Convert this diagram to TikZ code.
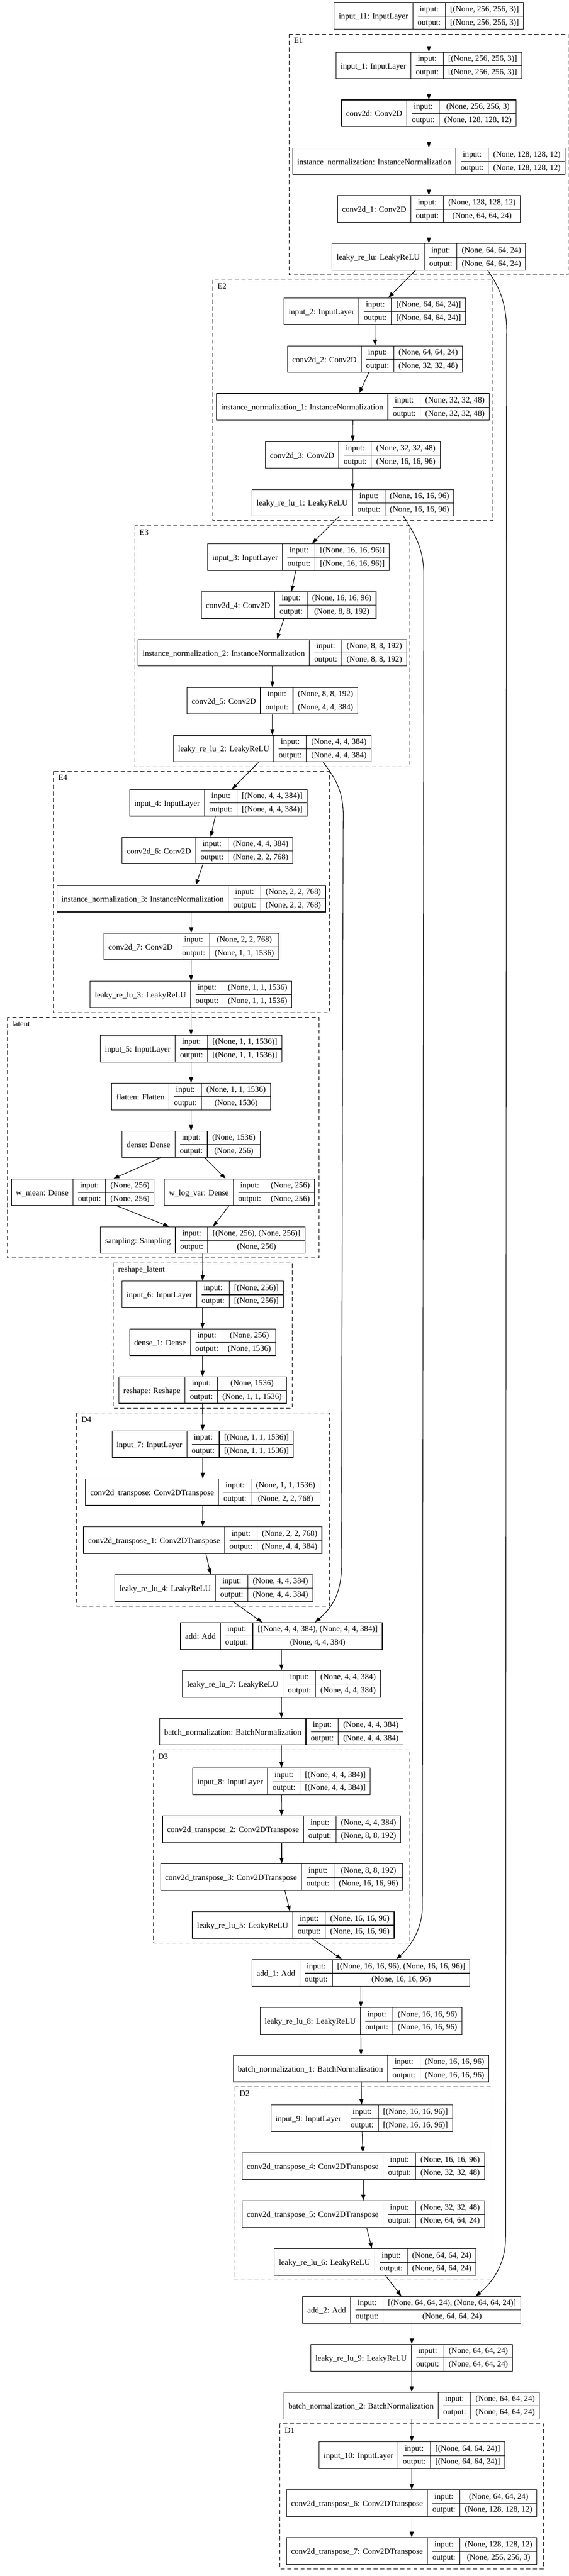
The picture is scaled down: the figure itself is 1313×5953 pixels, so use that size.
\documentclass[tikz,border=0pt]{standalone}
\usepackage{fontspec}
\setmainfont{Liberation Serif}
\usepackage{tikz}
\usetikzlibrary{arrows.meta}

\setlength{\arrayrulewidth}{1pt}
\newcommand{\rowstrut}{\rule[-7.5pt]{0pt}{23pt}}
\newcommand{\layerrec}[3]{%
  \begin{tabular}{@{\hspace{8pt}}c@{\hspace{8pt}}|@{\hspace{8pt}}c@{\hspace{8pt}}|@{\hspace{8pt}}c@{\hspace{8pt}}}
    & input:\rowstrut & #2 \\ \cline{2-3}
    \smash{\raisebox{10pt}{#1}} & output:\rowstrut & #3
  \end{tabular}}

\tikzset{
  rec/.style={draw, line width=1pt, inner sep=0pt, fill=white},
  flow/.style={-{Triangle[length=10pt,width=7pt]}, line width=1pt},
  grp/.style={draw, line width=1pt, dash pattern=on 7pt off 4.5pt},
  grplab/.style={anchor=base west, inner sep=0pt}
}

\begin{document}
\begin{tikzpicture}[x=0.75pt, y=-0.75pt, font=\fontsize{14pt}{16.8pt}\selectfont]
        \fill[white] (0,0) rectangle (1313,5953);

        % Groups
        \draw[grp] (667.5,79) rectangle (1311,635.7);
        \draw[grp] (491,646.7) rectangle (1137.5,1203.3);
        \draw[grp] (311,1215) rectangle (946,1771.7);
        \draw[grp] (123.7,1782.7) rectangle (760,2340);
        \draw[grp] (17,2350.7) rectangle (736,2907.3);
        \draw[grp] (261.7,2918.3) rectangle (674,3254.7);
        \draw[grp] (177,3265.3) rectangle (760,3711.7);
        \draw[grp] (354,4043.7) rectangle (946,4490.3);
        \draw[grp] (542,4822.7) rectangle (1135,5268.7);
        \draw[grp] (646,5601) rectangle (1254.4,5936.7);

        % Group labels
        \node[grplab] (labe1) at (678.2,100) {E1};
        \node[grplab] (labe2) at (501.7,667.7) {E2};
        \node[grplab] (labe3) at (321.7,1236) {E3};
        \node[grplab] (labe4) at (134.4,1803.7) {E4};
        \node[grplab] (lablat) at (27.7,2371.7) {latent};
        \node[grplab] (labres) at (272.4,2939.3) {reshape\_latent};
        \node[grplab] (labd4) at (187.7,3286.3) {D4};
        \node[grplab] (labd3) at (364.7,4064.7) {D3};
        \node[grplab] (labd2) at (552.7,4843.7) {D2};
        \node[grplab] (labd1) at (656.7,5622) {D1};

        % Encoder layers
        \node[rec] (in11) at (989.8,36.5) {\layerrec{input\_11: InputLayer}{[(None, 256, 256, 3)]}{[(None, 256, 256, 3)]}};
        \node[rec] (in1) at (989.8,151.3) {\layerrec{input\_1: InputLayer}{[(None, 256, 256, 3)]}{[(None, 256, 256, 3)]}};
        \node[rec] (conv) at (989.8,261.7) {\layerrec{conv2d: Conv2D}{(None, 256, 256, 3)}{(None, 128, 128, 12)}};
        \node[rec] (inorm) at (989.8,372.5) {\layerrec{instance\_normalization: InstanceNormalization}{(None, 128, 128, 12)}{(None, 128, 128, 12)}};
        \node[rec] (conv1) at (989.8,483) {\layerrec{conv2d\_1: Conv2D}{(None, 128, 128, 12)}{(None, 64, 64, 24)}};
        \node[rec] (lrelu) at (989.8,593.7) {\layerrec{leaky\_re\_lu: LeakyReLU}{(None, 64, 64, 24)}{(None, 64, 64, 24)}};
        \node[rec] (in2) at (865.2,719.3) {\layerrec{input\_2: InputLayer}{[(None, 64, 64, 24)]}{[(None, 64, 64, 24)]}};
        \node[rec] (conv2) at (865.7,829.7) {\layerrec{conv2d\_2: Conv2D}{(None, 64, 64, 24)}{(None, 32, 32, 48)}};
        \node[rec] (inorm1) at (814.4,940.3) {\layerrec{instance\_normalization\_1: InstanceNormalization}{(None, 32, 32, 48)}{(None, 32, 32, 48)}};
        \node[rec] (conv3) at (814.1,1051.3) {\layerrec{conv2d\_3: Conv2D}{(None, 32, 32, 48)}{(None, 16, 16, 96)}};
        \node[rec] (lrelu1) at (814.4,1161.8) {\layerrec{leaky\_re\_lu\_1: LeakyReLU}{(None, 16, 16, 96)}{(None, 16, 16, 96)}};
        \node[rec] (in3) at (689,1287.3) {\layerrec{input\_3: InputLayer}{[(None, 16, 16, 96)]}{[(None, 16, 16, 96)]}};
        \node[rec] (conv4) at (666.3,1398) {\layerrec{conv2d\_4: Conv2D}{(None, 16, 16, 96)}{(None, 8, 8, 192)}};
        \node[rec] (inorm2) at (628.5,1508.3) {\layerrec{instance\_normalization\_2: InstanceNormalization}{(None, 8, 8, 192)}{(None, 8, 8, 192)}};
        \node[rec] (conv5) at (628.7,1619.3) {\layerrec{conv2d\_5: Conv2D}{(None, 8, 8, 192)}{(None, 4, 4, 384)}};
        \node[rec] (lrelu2) at (628.5,1729.7) {\layerrec{leaky\_re\_lu\_2: LeakyReLU}{(None, 4, 4, 384)}{(None, 4, 4, 384)}};
        \node[rec] (in4) at (504,1855.2) {\layerrec{input\_4: InputLayer}{[(None, 4, 4, 384)]}{[(None, 4, 4, 384)]}};
        \node[rec] (conv6) at (479,1965.8) {\layerrec{conv2d\_6: Conv2D}{(None, 4, 4, 384)}{(None, 2, 2, 768)}};
        \node[rec] (inorm3) at (441.3,2076.7) {\layerrec{instance\_normalization\_3: InstanceNormalization}{(None, 2, 2, 768)}{(None, 2, 2, 768)}};
        \node[rec] (conv7) at (441.3,2187.3) {\layerrec{conv2d\_7: Conv2D}{(None, 2, 2, 768)}{(None, 1, 1, 1536)}};
        \node[rec] (lrelu3) at (441,2298) {\layerrec{leaky\_re\_lu\_3: LeakyReLU}{(None, 1, 1, 1536)}{(None, 1, 1, 1536)}};

        % Latent layers
        \node[rec] (in5) at (441,2423.3) {\layerrec{input\_5: InputLayer}{[(None, 1, 1, 1536)]}{[(None, 1, 1, 1536)]}};
        \node[rec] (flat) at (441,2534) {\layerrec{flatten: Flatten}{(None, 1, 1, 1536)}{(None, 1536)}};
        \node[rec] (dense) at (441,2644.5) {\layerrec{dense: Dense}{(None, 1536)}{(None, 256)}};
        \node[rec] (wmean) at (191,2755) {\layerrec{w\_mean: Dense}{(None, 256)}{(None, 256)}};
        \node[rec] (wlogvar) at (552.5,2755) {\layerrec{w\_log\_var: Dense}{(None, 256)}{(None, 256)}};
        \node[rec] (samp) at (467.9,2865.8) {\layerrec{sampling: Sampling}{[(None, 256), (None, 256)]}{(None, 256)}};
        \node[rec] (in6) at (467.5,2991.3) {\layerrec{input\_6: InputLayer}{[(None, 256)]}{[(None, 256)]}};
        \node[rec] (dense1) at (467.5,3101.7) {\layerrec{dense\_1: Dense}{(None, 256)}{(None, 1536)}};
        \node[rec] (resh) at (467.5,3212.5) {\layerrec{reshape: Reshape}{(None, 1536)}{(None, 1, 1, 1536)}};

        % Decoder layers
        \node[rec] (in7) at (467.9,3337.5) {\layerrec{input\_7: InputLayer}{[(None, 1, 1, 1536)]}{[(None, 1, 1, 1536)]}};
        \node[rec] (convt) at (468,3448.2) {\layerrec{conv2d\_transpose: Conv2DTranspose}{(None, 1, 1, 1536)}{(None, 2, 2, 768)}};
        \node[rec] (convt1) at (467.9,3559.3) {\layerrec{conv2d\_transpose\_1: Conv2DTranspose}{(None, 2, 2, 768)}{(None, 4, 4, 384)}};
        \node[rec] (lrelu4) at (493.5,3669.8) {\layerrec{leaky\_re\_lu\_4: LeakyReLU}{(None, 4, 4, 384)}{(None, 4, 4, 384)}};
        \node[rec] (add) at (649.5,3780.5) {\layerrec{add: Add}{[(None, 4, 4, 384), (None, 4, 4, 384)]}{(None, 4, 4, 384)}};
        \node[rec] (lrelu7) at (649.6,3891.2) {\layerrec{leaky\_re\_lu\_7: LeakyReLU}{(None, 4, 4, 384)}{(None, 4, 4, 384)}};
        \node[rec] (bnorm) at (649.5,4001.7) {\layerrec{batch\_normalization: BatchNormalization}{(None, 4, 4, 384)}{(None, 4, 4, 384)}};
        \node[rec] (in8) at (649.7,4116.5) {\layerrec{input\_8: InputLayer}{[(None, 4, 4, 384)]}{[(None, 4, 4, 384)]}};
        \node[rec] (convt2) at (650,4227.3) {\layerrec{conv2d\_transpose\_2: Conv2DTranspose}{(None, 4, 4, 384)}{(None, 8, 8, 192)}};
        \node[rec] (convt3) at (650,4338) {\layerrec{conv2d\_transpose\_3: Conv2DTranspose}{(None, 8, 8, 192)}{(None, 16, 16, 96)}};
        \node[rec] (lrelu5) at (676.8,4448.5) {\layerrec{leaky\_re\_lu\_5: LeakyReLU}{(None, 16, 16, 96)}{(None, 16, 16, 96)}};
        \node[rec] (add1) at (832.9,4559.3) {\layerrec{add\_1: Add}{[(None, 16, 16, 96), (None, 16, 16, 96)]}{(None, 16, 16, 96)}};
        \node[rec] (lrelu8) at (832.9,4670) {\layerrec{leaky\_re\_lu\_8: LeakyReLU}{(None, 16, 16, 96)}{(None, 16, 16, 96)}};
        \node[rec] (bnorm1) at (833.3,4780.5) {\layerrec{batch\_normalization\_1: BatchNormalization}{(None, 16, 16, 96)}{(None, 16, 16, 96)}};
        \node[rec] (in9) at (834.8,4895.3) {\layerrec{input\_9: InputLayer}{[(None, 16, 16, 96)]}{[(None, 16, 16, 96)]}};
        \node[rec] (convt4) at (838.5,5005.8) {\layerrec{conv2d\_transpose\_4: Conv2DTranspose}{(None, 16, 16, 96)}{(None, 32, 32, 48)}};
        \node[rec] (convt5) at (838.5,5116.5) {\layerrec{conv2d\_transpose\_5: Conv2DTranspose}{(None, 32, 32, 48)}{(None, 64, 64, 24)}};
        \node[rec] (lrelu6) at (866,5227.3) {\layerrec{leaky\_re\_lu\_6: LeakyReLU}{(None, 64, 64, 24)}{(None, 64, 64, 24)}};
        \node[rec] (add2) at (950.3,5337.8) {\layerrec{add\_2: Add}{[(None, 64, 64, 24), (None, 64, 64, 24)]}{(None, 64, 64, 24)}};
        \node[rec] (lrelu9) at (950.3,5448.5) {\layerrec{leaky\_re\_lu\_9: LeakyReLU}{(None, 64, 64, 24)}{(None, 64, 64, 24)}};
        \node[rec] (bnorm2) at (950.2,5559.2) {\layerrec{batch\_normalization\_2: BatchNormalization}{(None, 64, 64, 24)}{(None, 64, 64, 24)}};
        \node[rec] (in10) at (950.5,5673.8) {\layerrec{input\_10: InputLayer}{[(None, 64, 64, 24)]}{[(None, 64, 64, 24)]}};
        \node[rec] (convt6) at (950.2,5784.5) {\layerrec{conv2d\_transpose\_6: Conv2DTranspose}{(None, 64, 64, 24)}{(None, 128, 128, 12)}};
        \node[rec] (convt7) at (950.2,5895.2) {\layerrec{conv2d\_transpose\_7: Conv2DTranspose}{(None, 128, 128, 12)}{(None, 256, 256, 3)}};

        % Encoder flow
        \draw[flow] (in11) -- (in1);
        \draw[flow] (in1) -- (conv);
        \draw[flow] (conv) -- (inorm);
        \draw[flow] (inorm) -- (conv1);
        \draw[flow] (conv1) -- (lrelu);
        \draw[flow] (lrelu) -- (in2);
        \draw[flow] (in2) -- (conv2);
        \draw[flow] (conv2) -- (inorm1);
        \draw[flow] (inorm1) -- (conv3);
        \draw[flow] (conv3) -- (lrelu1);
        \draw[flow] (lrelu1) -- (in3);
        \draw[flow] (in3) -- (conv4);
        \draw[flow] (conv4) -- (inorm2);
        \draw[flow] (inorm2) -- (conv5);
        \draw[flow] (conv5) -- (lrelu2);
        \draw[flow] (lrelu2) -- (in4);
        \draw[flow] (in4) -- (conv6);
        \draw[flow] (conv6) -- (inorm3);
        \draw[flow] (inorm3) -- (conv7);
        \draw[flow] (conv7) -- (lrelu3);

        % Latent flow
        \draw[flow] (lrelu3) -- (in5);
        \draw[flow] (in5) -- (flat);
        \draw[flow] (flat) -- (dense);
        \draw[flow] (dense) -- (wmean);
        \draw[flow] (dense) -- (wlogvar);
        \draw[flow] (wmean) -- (samp);
        \draw[flow] (wlogvar) -- (samp);
        \draw[flow] (samp) -- (in6);
        \draw[flow] (in6) -- (dense1);
        \draw[flow] (dense1) -- (resh);

        % Decoder flow
        \draw[flow] (resh) -- (in7);
        \draw[flow] (in7) -- (convt);
        \draw[flow] (convt) -- (convt1);
        \draw[flow] (convt1) -- (lrelu4);
        \draw[flow] (lrelu4) -- (add);
        \draw[flow] (add) -- (lrelu7);
        \draw[flow] (lrelu7) -- (bnorm);
        \draw[flow] (bnorm) -- (in8);
        \draw[flow] (in8) -- (convt2);
        \draw[flow] (convt2) -- (convt3);
        \draw[flow] (convt3) -- (lrelu5);
        \draw[flow] (lrelu5) -- (add1);
        \draw[flow] (add1) -- (lrelu8);
        \draw[flow] (lrelu8) -- (bnorm1);
        \draw[flow] (bnorm1) -- (in9);
        \draw[flow] (in9) -- (convt4);
        \draw[flow] (convt4) -- (convt5);
        \draw[flow] (convt5) -- (lrelu6);
        \draw[flow] (lrelu6) -- (add2);
        \draw[flow] (add2) -- (lrelu9);
        \draw[flow] (lrelu9) -- (bnorm2);
        \draw[flow] (bnorm2) -- (in10);
        \draw[flow] (in10) -- (convt6);
        \draw[flow] (convt6) -- (convt7);

        % Skip connections
        \draw[flow] (lrelu.-13) .. controls (1150,660) and (1172,700) .. (1169,780) -- (1167,5170) .. controls (1167,5235) and (1135,5275) .. (add2.12);
        \draw[flow] (lrelu1.-15) .. controls (960,1240) and (980,1270) .. (978,1340) -- (975,4400) .. controls (976,4460) and (945,4500) .. (add1.21);
        \draw[flow] (lrelu2.-15) .. controls (775,1800) and (795,1830) .. (792,1900) -- (788,3620) .. controls (788,3690) and (760,3720) .. (add.22);
    \end{tikzpicture}
\end{document}
